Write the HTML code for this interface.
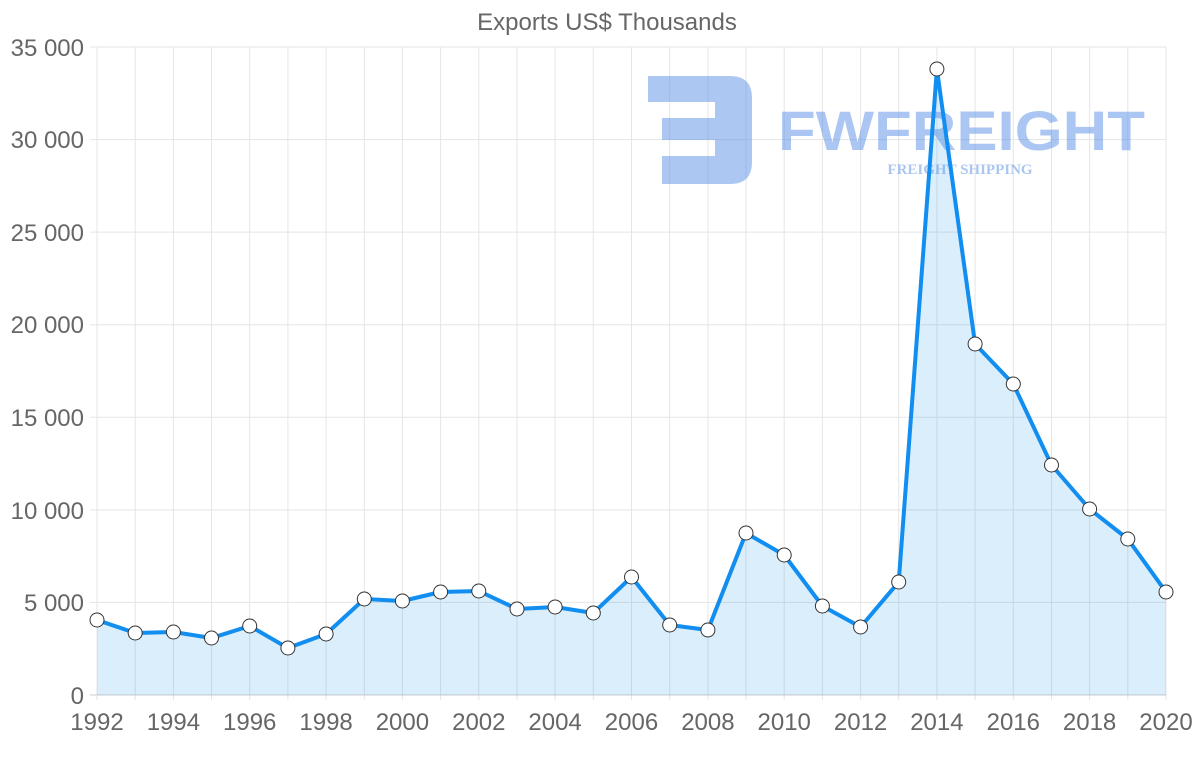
<!DOCTYPE html>
<html><head><meta charset="utf-8"><style>
body{margin:0;background:#fff}
svg{display:block;font-family:"Liberation Sans",sans-serif}
</style></head><body>
<svg width="1200" height="763" viewBox="0 0 1200 763">
<text x="607" y="30" text-anchor="middle" font-size="24" fill="#666">Exports US$ Thousands</text>
<g stroke="#e5e5e5" stroke-width="1">
<line x1="90" y1="47" x2="1166" y2="47"/><line x1="90" y1="139.6" x2="1166" y2="139.6"/><line x1="90" y1="232.1" x2="1166" y2="232.1"/><line x1="90" y1="324.7" x2="1166" y2="324.7"/><line x1="90" y1="417.3" x2="1166" y2="417.3"/><line x1="90" y1="509.9" x2="1166" y2="509.9"/><line x1="90" y1="602.4" x2="1166" y2="602.4"/>
<line x1="97" y1="47" x2="97" y2="700"/><line x1="135.2" y1="47" x2="135.2" y2="700"/><line x1="173.4" y1="47" x2="173.4" y2="700"/><line x1="211.5" y1="47" x2="211.5" y2="700"/><line x1="249.7" y1="47" x2="249.7" y2="700"/><line x1="287.9" y1="47" x2="287.9" y2="700"/><line x1="326.1" y1="47" x2="326.1" y2="700"/><line x1="364.3" y1="47" x2="364.3" y2="700"/><line x1="402.4" y1="47" x2="402.4" y2="700"/><line x1="440.6" y1="47" x2="440.6" y2="700"/><line x1="478.8" y1="47" x2="478.8" y2="700"/><line x1="517" y1="47" x2="517" y2="700"/><line x1="555.1" y1="47" x2="555.1" y2="700"/><line x1="593.3" y1="47" x2="593.3" y2="700"/><line x1="631.5" y1="47" x2="631.5" y2="700"/><line x1="669.7" y1="47" x2="669.7" y2="700"/><line x1="707.9" y1="47" x2="707.9" y2="700"/><line x1="746" y1="47" x2="746" y2="700"/><line x1="784.2" y1="47" x2="784.2" y2="700"/><line x1="822.4" y1="47" x2="822.4" y2="700"/><line x1="860.6" y1="47" x2="860.6" y2="700"/><line x1="898.7" y1="47" x2="898.7" y2="700"/><line x1="936.9" y1="47" x2="936.9" y2="700"/><line x1="975.1" y1="47" x2="975.1" y2="700"/><line x1="1013.3" y1="47" x2="1013.3" y2="700"/><line x1="1051.5" y1="47" x2="1051.5" y2="700"/><line x1="1089.6" y1="47" x2="1089.6" y2="700"/><line x1="1127.8" y1="47" x2="1127.8" y2="700"/><line x1="1166" y1="47" x2="1166" y2="700"/>
</g>
<line x1="90" y1="695" x2="1166" y2="695" stroke="#ccc"/>
<g font-size="24" fill="#666" text-anchor="end">
<text x="84" y="56">35 000</text><text x="84" y="148">30 000</text><text x="84" y="241">25 000</text><text x="84" y="333">20 000</text><text x="84" y="426">15 000</text><text x="84" y="519">10 000</text><text x="84" y="611">5 000</text><text x="84" y="704">0</text>
</g>
<g font-size="24" fill="#666" text-anchor="middle">
<text x="97" y="730">1992</text><text x="173.4" y="730">1994</text><text x="249.7" y="730">1996</text><text x="326.1" y="730">1998</text><text x="402.4" y="730">2000</text><text x="478.8" y="730">2002</text><text x="555.1" y="730">2004</text><text x="631.5" y="730">2006</text><text x="707.9" y="730">2008</text><text x="784.2" y="730">2010</text><text x="860.6" y="730">2012</text><text x="936.9" y="730">2014</text><text x="1013.3" y="730">2016</text><text x="1089.6" y="730">2018</text><text x="1166" y="730">2020</text>
</g>
<g opacity="0.5">
<path d="M648 76 H730 Q752 76 752 98 V162 Q752 184 730 184 H662 V156 H715 V140 H662 V118 H715 V102 H648 Z" fill="#5a8fe6"/>
<text x="778" y="150" font-size="56" font-weight="bold" fill="#5a8fe6" textLength="367" lengthAdjust="spacingAndGlyphs">FWFREIGHT</text>
<text x="960" y="174" text-anchor="middle" font-size="15" font-weight="bold" font-family="Liberation Serif,serif" fill="#5a8fe6">FREIGHT SHIPPING</text>
</g>
<path fill="rgba(54,162,235,0.18)" d="M97 620L135.2 633L173.4 632L211.5 638L249.7 626L287.9 648L326.1 634L364.3 599L402.4 601L440.6 592L478.8 591L517 609L555.1 607L593.3 613L631.5 577L669.7 625L707.9 630L746 533L784.2 555L822.4 606L860.6 627L898.7 582L936.9 69L975.1 344L1013.3 384L1051.5 465L1089.6 509L1127.8 539L1166 592L1166 695L97 695Z"/>
<path fill="none" stroke="#118ef0" stroke-width="4" stroke-linejoin="round" d="M97 620L135.2 633L173.4 632L211.5 638L249.7 626L287.9 648L326.1 634L364.3 599L402.4 601L440.6 592L478.8 591L517 609L555.1 607L593.3 613L631.5 577L669.7 625L707.9 630L746 533L784.2 555L822.4 606L860.6 627L898.7 582L936.9 69L975.1 344L1013.3 384L1051.5 465L1089.6 509L1127.8 539L1166 592"/>
<g fill="#fff" stroke="#333" stroke-width="1">
<circle cx="97" cy="620" r="7"/><circle cx="135.2" cy="633" r="7"/><circle cx="173.4" cy="632" r="7"/><circle cx="211.5" cy="638" r="7"/><circle cx="249.7" cy="626" r="7"/><circle cx="287.9" cy="648" r="7"/><circle cx="326.1" cy="634" r="7"/><circle cx="364.3" cy="599" r="7"/><circle cx="402.4" cy="601" r="7"/><circle cx="440.6" cy="592" r="7"/><circle cx="478.8" cy="591" r="7"/><circle cx="517" cy="609" r="7"/><circle cx="555.1" cy="607" r="7"/><circle cx="593.3" cy="613" r="7"/><circle cx="631.5" cy="577" r="7"/><circle cx="669.7" cy="625" r="7"/><circle cx="707.9" cy="630" r="7"/><circle cx="746" cy="533" r="7"/><circle cx="784.2" cy="555" r="7"/><circle cx="822.4" cy="606" r="7"/><circle cx="860.6" cy="627" r="7"/><circle cx="898.7" cy="582" r="7"/><circle cx="936.9" cy="69" r="7"/><circle cx="975.1" cy="344" r="7"/><circle cx="1013.3" cy="384" r="7"/><circle cx="1051.5" cy="465" r="7"/><circle cx="1089.6" cy="509" r="7"/><circle cx="1127.8" cy="539" r="7"/><circle cx="1166" cy="592" r="7"/>
</g>
</svg>
</body></html>
